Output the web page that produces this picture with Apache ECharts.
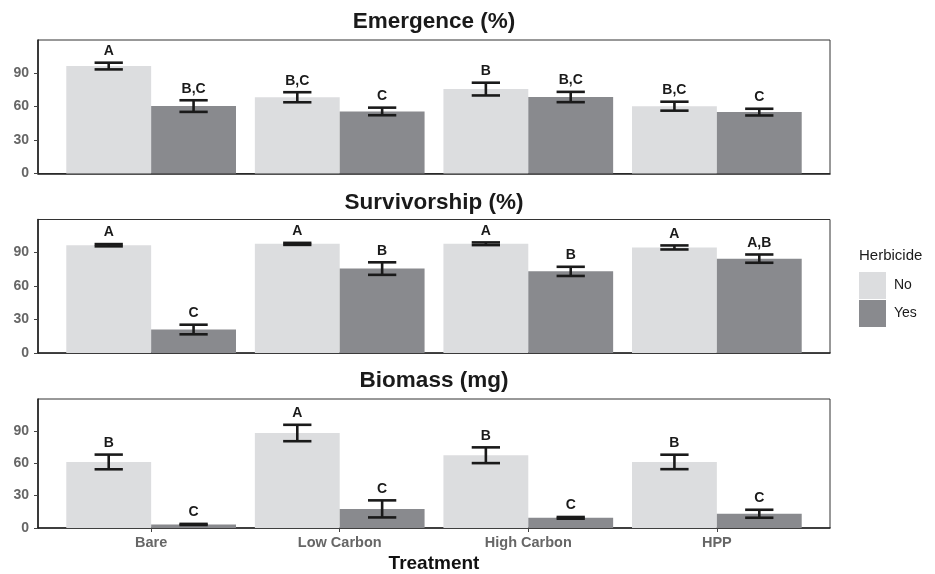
<!DOCTYPE html>
<html>
<head>
<meta charset="utf-8">
<script src="https://cdn.jsdelivr.net/npm/echarts@6/dist/echarts.min.js"></script>
<style>html,body{margin:0;padding:0;background:#fff;}#c{width:935px;height:574px;}</style>
</head>
<body>
<div id="c"></div>
<script>
// ---- data ----
const categories = ['Bare', 'Low Carbon', 'High Carbon', 'HPP'];
const groups = ['No', 'Yes'];
const panelTitles = ['Emergence (%)', 'Survivorship (%)', 'Biomass (mg)'];
const yTicks = [0, 30, 60, 90];

const emergNo = [96.2, 68.3, 75.6, 60.3];
const emergNoSe = [3.0, 4.5, 5.7, 4.0];
const emergYes = [60.4, 55.6, 68.5, 55.0];
const emergYesSe = [5.2, 3.4, 4.6, 3.0];
const emergNoLetters = ['A', 'B,C', 'B', 'B,C'];
const emergYesLetters = ['B,C', 'C', 'B,C', 'C'];

const survNo = [96.5, 97.7, 97.8, 94.5];
const survNoSe = [1.0, 0.9, 1.2, 1.8];
const survYes = [21.1, 75.6, 73.1, 84.5];
const survYesSe = [4.3, 5.6, 4.1, 3.7];
const survNoLetters = ['A', 'A', 'A', 'A'];
const survYesLetters = ['C', 'B', 'B', 'A,B'];

const bioNo = [61.2, 88.0, 67.4, 61.2];
const bioNoSe = [6.8, 7.6, 7.3, 6.7];
const bioYes = [3.3, 17.7, 9.4, 13.2];
const bioYesSe = [0.5, 7.9, 0.8, 3.7];
const bioNoLetters = ['B', 'A', 'B', 'B'];
const bioYesLetters = ['C', 'C', 'C', 'C'];

const panels = [
  { no: emergNo, noSe: emergNoSe, yes: emergYes, yesSe: emergYesSe, noL: emergNoLetters, yesL: emergYesLetters },
  { no: survNo, noSe: survNoSe, yes: survYes, yesSe: survYesSe, noL: survNoLetters, yesL: survYesLetters },
  { no: bioNo, noSe: bioNoSe, yes: bioYes, yesSe: bioYesSe, noL: bioNoLetters, yesL: bioYesLetters }
];

// ---- layout / style ----
const FONT = '"Liberation Sans", Arial, Helvetica, sans-serif';
const colNo = '#dcdddf';
const colYes = '#898a8e';
const gridTops = [40, 219.5, 399];
const titleOffsets = [18, 16.5, 18.5];
const gridH = 133.6;
const gridLeft = 38, gridWidth = 792;
const X_MIN = 0.4, X_MAX = 4.6;
const dodge = 0.225;

const chart = echarts.init(document.getElementById('c'), null, { renderer: 'canvas' });

const grids = [], xAxes = [], yAxes = [], series = [], graphics = [];

panels.forEach((p, i) => {
  grids.push({
    left: gridLeft, top: gridTops[i], width: gridWidth, height: gridH,
    show: true, borderColor: '#333', borderWidth: 1, backgroundColor: 'transparent',
    containLabel: false
  });
  const last = i === panels.length - 1;
  xAxes.push({
    type: 'value', gridIndex: i, min: X_MIN, max: X_MAX,
    axisLine: { show: true, onZero: false, lineStyle: { color: '#222', width: 1.6 } },
    axisTick: { show: last, customValues: [1, 2, 3, 4], length: 4, lineStyle: { color: '#444', width: 1 } },
    axisLabel: {
      show: last, customValues: [1, 2, 3, 4], margin: 7,
      formatter: v => categories[Math.round(v) - 1] || '',
      color: '#666', fontWeight: 'bold', fontSize: 14.5, fontFamily: FONT
    },
    splitLine: { show: false },
    name: last ? 'Treatment' : '', nameLocation: 'middle', nameGap: 26,
    nameTextStyle: { color: '#111', fontWeight: 'bold', fontSize: 19, fontFamily: FONT }
  });
  yAxes.push({
    type: 'value', gridIndex: i, min: 0, max: 119.5,
    axisLine: { show: true, lineStyle: { color: '#222', width: 1.6 } },
    axisTick: { show: true, customValues: yTicks, length: 4, lineStyle: { color: '#444', width: 1 } },
    axisLabel: {
      customValues: yTicks, margin: 9,
      color: '#666', fontWeight: 'bold', fontSize: 14, fontFamily: FONT
    },
    splitLine: { show: false }
  });

  series.push({
    name: 'No', type: 'bar', xAxisIndex: i, yAxisIndex: i,
    data: p.no.map((v, j) => [j + 1, v]),
    barGap: '0%', barCategoryGap: '10%',
    itemStyle: { color: colNo }, silent: true, z: 2
  });
  series.push({
    name: 'Yes', type: 'bar', xAxisIndex: i, yAxisIndex: i,
    data: p.yes.map((v, j) => [j + 1, v]),
    barGap: '0%', barCategoryGap: '10%',
    itemStyle: { color: colYes }, silent: true, z: 2
  });

  // error bars + letters
  const ebData = [];
  const ebLetters = [];
  categories.forEach((c, j) => {
    ebData.push([j + 1, p.no[j], p.noSe[j], -1]);
    ebLetters.push(p.noL[j]);
    ebData.push([j + 1, p.yes[j], p.yesSe[j], 1]);
    ebLetters.push(p.yesL[j]);
  });
  series.push({
    type: 'custom', xAxisIndex: i, yAxisIndex: i, silent: true, z: 5,
    data: ebData,
    encode: { x: 0, y: 1 },
    renderItem: function (params, api) {
      const x = api.value(0) + api.value(3) * dodge;
      const m = api.value(1), se = api.value(2);
      const pLo = api.coord([x, m - se]);
      const pHi = api.coord([x, m + se]);
      const hw = api.size([0.15, 0])[0] / 2;
      const st = { stroke: '#1a1a1a', lineWidth: 2.6 };
      return {
        type: 'group',
        children: [
          { type: 'line', shape: { x1: pLo[0], y1: pLo[1], x2: pHi[0], y2: pHi[1] }, style: st },
          { type: 'line', shape: { x1: pLo[0] - hw, y1: pLo[1], x2: pLo[0] + hw, y2: pLo[1] }, style: st },
          { type: 'line', shape: { x1: pHi[0] - hw, y1: pHi[1], x2: pHi[0] + hw, y2: pHi[1] }, style: st },
          {
            type: 'text',
            style: {
              text: ebLetters[params.dataIndex], x: pHi[0], y: pHi[1] - 4.5,
              textAlign: 'center', textVerticalAlign: 'bottom',
              font: 'bold 14px ' + FONT, fill: '#1a1a1a'
            }
          }
        ]
      };
    }
  });

  graphics.push({
    type: 'text', x: gridLeft + gridWidth / 2, y: gridTops[i] - titleOffsets[i],
    style: {
      text: panelTitles[i], textAlign: 'center', textVerticalAlign: 'middle',
      font: 'bold 22.5px ' + FONT, fill: '#1a1a1a'
    }
  });
});

graphics.push({
  type: 'text', x: 859, y: 256,
  style: { text: 'Herbicide', textAlign: 'left', textVerticalAlign: 'middle', font: '15px ' + FONT, fill: '#1a1a1a' }
});

chart.setOption({
  animation: false,
  backgroundColor: '#fff',
  grid: grids,
  xAxis: xAxes,
  yAxis: yAxes,
  series: series,
  graphic: graphics,
  legend: {
    data: groups, orient: 'vertical', left: 859, top: 272, padding: 0,
    itemWidth: 27, itemHeight: 27, itemGap: 1, icon: 'rect', selectedMode: false,
    textStyle: { fontSize: 14, color: '#1a1a1a', fontFamily: FONT, padding: [0, 0, 0, 3] }
  }
});
</script>
</body>
</html>
